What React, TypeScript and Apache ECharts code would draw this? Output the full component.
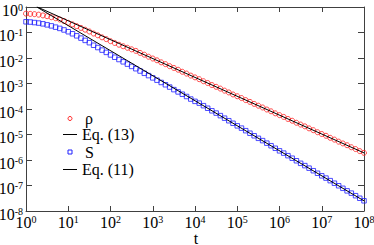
import React, { useEffect, useRef } from "react";
import * as echarts from "echarts";

// log10(t) of the sampled points
const tExp = [
  0, 0.1, 0.2, 0.3, 0.4, 0.5, 0.6, 0.7, 0.8, 0.9,
  1, 1.1, 1.2, 1.3, 1.4, 1.5, 1.6, 1.7, 1.8, 1.9,
  2, 2.1, 2.2, 2.3, 2.4, 2.5, 2.6, 2.7, 2.8, 2.9,
  3, 3.1, 3.2, 3.3, 3.4, 3.5, 3.6, 3.7, 3.8, 3.9,
  4, 4.1, 4.2, 4.3, 4.4, 4.5, 4.6, 4.7, 4.8, 4.9,
  5, 5.1, 5.2, 5.3, 5.4, 5.5, 5.6, 5.7, 5.8, 5.9,
  6, 6.1, 6.2, 6.3, 6.4, 6.5, 6.6, 6.7, 6.8, 6.9,
  7, 7.1, 7.2, 7.3, 7.4, 7.5, 7.6, 7.7, 7.8, 7.9, 8,
];

// log10(rho)
const rhoLog10 = [
  -0.26, -0.27, -0.28, -0.3, -0.33, -0.36, -0.4, -0.44, -0.49, -0.55,
  -0.62, -0.68, -0.75, -0.82, -0.89, -0.96, -1.04, -1.11, -1.19, -1.26,
  -1.34, -1.41, -1.48, -1.54, -1.6, -1.66, -1.72, -1.8, -1.87, -1.95,
  -2.02, -2.09, -2.17, -2.24, -2.32, -2.39, -2.46, -2.54, -2.61, -2.69,
  -2.76, -2.83, -2.91, -2.98, -3.06, -3.13, -3.2, -3.28, -3.35, -3.43,
  -3.5, -3.57, -3.65, -3.72, -3.8, -3.87, -3.94, -4.02, -4.09, -4.17,
  -4.24, -4.31, -4.39, -4.46, -4.54, -4.61, -4.68, -4.76, -4.83, -4.91,
  -4.98, -5.05, -5.13, -5.2, -5.28, -5.35, -5.42, -5.5, -5.57, -5.65, -5.72,
];

// log10(S)
const sLog10 = [
  -0.58, -0.59, -0.61, -0.63, -0.66, -0.7, -0.74, -0.79, -0.84, -0.9,
  -0.97, -1.05, -1.13, -1.22, -1.31, -1.4, -1.5, -1.59, -1.69, -1.78,
  -1.88, -1.97, -2.06, -2.15, -2.24, -2.33, -2.42, -2.51, -2.6, -2.69,
  -2.78, -2.87, -2.96, -3.05, -3.14, -3.24, -3.33, -3.42, -3.51, -3.61,
  -3.7, -3.77, -3.87, -3.97, -4.07, -4.16, -4.26, -4.36, -4.46, -4.56,
  -4.66, -4.75, -4.85, -4.95, -5.05, -5.15, -5.24, -5.34, -5.44, -5.54,
  -5.64, -5.73, -5.83, -5.93, -6.03, -6.13, -6.22, -6.32, -6.42, -6.52,
  -6.62, -6.71, -6.81, -6.91, -7.01, -7.11, -7.21, -7.3, -7.4, -7.5, -7.6,
];

// Eq. (13) and Eq. (11) straight lines (end points)
const eq13T = [1.86, 1e8];
const eq13Y = [1, 1.9e-6];
const eq11T = [1.8, 1e8];
const eq11Y = [1, 2.5e-8];

const legendLabels = ["ρ", "Eq. (13)", "S", "Eq. (11)"];
const xAxisTitle = "t";

const SERIF = "Liberation Serif";
const AXIS_COLOR = "#404040";

const expLabel = (v: number) => {
  const e = Math.round(Math.log10(v));
  return `{b|10}{s|${e}}`;
};

const richStyle = {
  b: { fontSize: 16, fontFamily: SERIF, color: "#000", verticalAlign: "bottom", lineHeight: 14 },
  s: {
    fontSize: 10,
    fontFamily: SERIF,
    color: "#000",
    verticalAlign: "bottom",
    lineHeight: 8,
    padding: [0, 0, 6, 0],
  },
};

export default function App() {
  const ref = useRef<HTMLDivElement>(null);

  useEffect(() => {
    if (!ref.current) return;
    const chart = echarts.init(ref.current, null, { renderer: "svg" });

    const rhoData = tExp.map((e, i) => [Math.pow(10, e), Math.pow(10, rhoLog10[i])]);
    const sData = tExp.map((e, i) => [Math.pow(10, e), Math.pow(10, sLog10[i])]);
    const eq13Data = eq13T.map((t, i) => [t, eq13Y[i]]);
    const eq11Data = eq11T.map((t, i) => [t, eq11Y[i]]);

    const baseX = {
      type: "log",
      logBase: 10,
      min: 1,
      max: 1e8,
      interval: 1,
      splitLine: { show: false },
      minorTick: { show: false },
      axisLine: { show: true, onZero: false, lineStyle: { color: AXIS_COLOR, width: 1 } },
      axisTick: { show: true, inside: true, length: 5, lineStyle: { color: AXIS_COLOR } },
    };
    const baseY = {
      type: "log",
      logBase: 10,
      min: 1e-8,
      max: 1,
      interval: 1,
      splitLine: { show: false },
      minorTick: { show: false },
      axisLine: { show: true, onZero: false, lineStyle: { color: AXIS_COLOR, width: 1 } },
      axisTick: { show: true, inside: true, length: 6, lineStyle: { color: AXIS_COLOR } },
    };

    const rowY = [118.5, 134.5, 152, 169.5];
    const txt = (x: number, y: number, s: string, size = 16, align = "left") => ({
      type: "text",
      x,
      y,
      style: {
        text: s,
        fontSize: size,
        fontFamily: SERIF,
        fill: "#000",
        align,
        verticalAlign: "middle",
      },
    });

    chart.setOption({
      animation: false,
      backgroundColor: "#fff",
      textStyle: { fontFamily: SERIF },
      grid: { left: 26, right: 10, top: 7, bottom: 34, containLabel: false, outerBoundsMode: "none" },
      xAxis: [
        {
          ...baseX,
          position: "bottom",
          axisLabel: {
            show: true,
            margin: 5,
            formatter: expLabel,
            rich: richStyle,
            showMinLabel: true,
            showMaxLabel: true,
            hideOverlap: false,
          },
        },
        {
          ...baseX,
          position: "top",
          axisLabel: { show: false },
        },
      ],
      yAxis: [
        {
          ...baseY,
          position: "left",
          axisLabel: {
            show: true,
            margin: 3,
            padding: [8, 0, 0, 0],
            formatter: expLabel,
            rich: richStyle,
            showMinLabel: true,
            showMaxLabel: true,
            hideOverlap: false,
          },
        },
        {
          ...baseY,
          position: "right",
          axisLabel: { show: false },
        },
      ],
      series: [
        {
          name: "ρ",
          type: "scatter",
          data: rhoData,
          symbol: "circle",
          symbolSize: 5,
          itemStyle: { color: "rgba(0,0,0,0)", borderColor: "#ff2020", borderWidth: 1 },
          z: 2,
        },
        {
          name: "S",
          type: "scatter",
          data: sData,
          symbol: "rect",
          symbolSize: 4.5,
          itemStyle: { color: "rgba(0,0,0,0)", borderColor: "#2020ff", borderWidth: 1 },
          z: 2,
        },
        {
          name: "Eq. (13)",
          type: "line",
          data: eq13Data,
          showSymbol: false,
          symbol: "none",
          lineStyle: { color: "#000", width: 1 },
          z: 3,
        },
        {
          name: "Eq. (11)",
          type: "line",
          data: eq11Data,
          showSymbol: false,
          symbol: "none",
          lineStyle: { color: "#000", width: 1 },
          z: 3,
        },
      ],
      graphic: [
        txt(196, 238, xAxisTitle, 16, "center"),
        {
          type: "circle",
          shape: { cx: 70, cy: rowY[0], r: 2 },
          style: { fill: "none", stroke: "#ff2020", lineWidth: 1 },
        },
        txt(85, rowY[0], legendLabels[0]),
        {
          type: "line",
          shape: { x1: 63, y1: rowY[1], x2: 77, y2: rowY[1] },
          style: { stroke: "#000", lineWidth: 1 },
        },
        txt(82, rowY[1], legendLabels[1]),
        {
          type: "rect",
          shape: { x: 68, y: rowY[2] - 2, width: 4, height: 4 },
          style: { fill: "none", stroke: "#2020ff", lineWidth: 1 },
        },
        txt(85, rowY[2], legendLabels[2]),
        {
          type: "line",
          shape: { x1: 63, y1: rowY[3], x2: 77, y2: rowY[3] },
          style: { stroke: "#000", lineWidth: 1 },
        },
        txt(82, rowY[3], legendLabels[3]),
      ],
    });

    return () => chart.dispose();
  }, []);

  return (
    <div
      ref={ref}
      style={{ position: "fixed", left: 0, top: 0, width: 374, height: 245, background: "#fff" }}
    />
  );
}
